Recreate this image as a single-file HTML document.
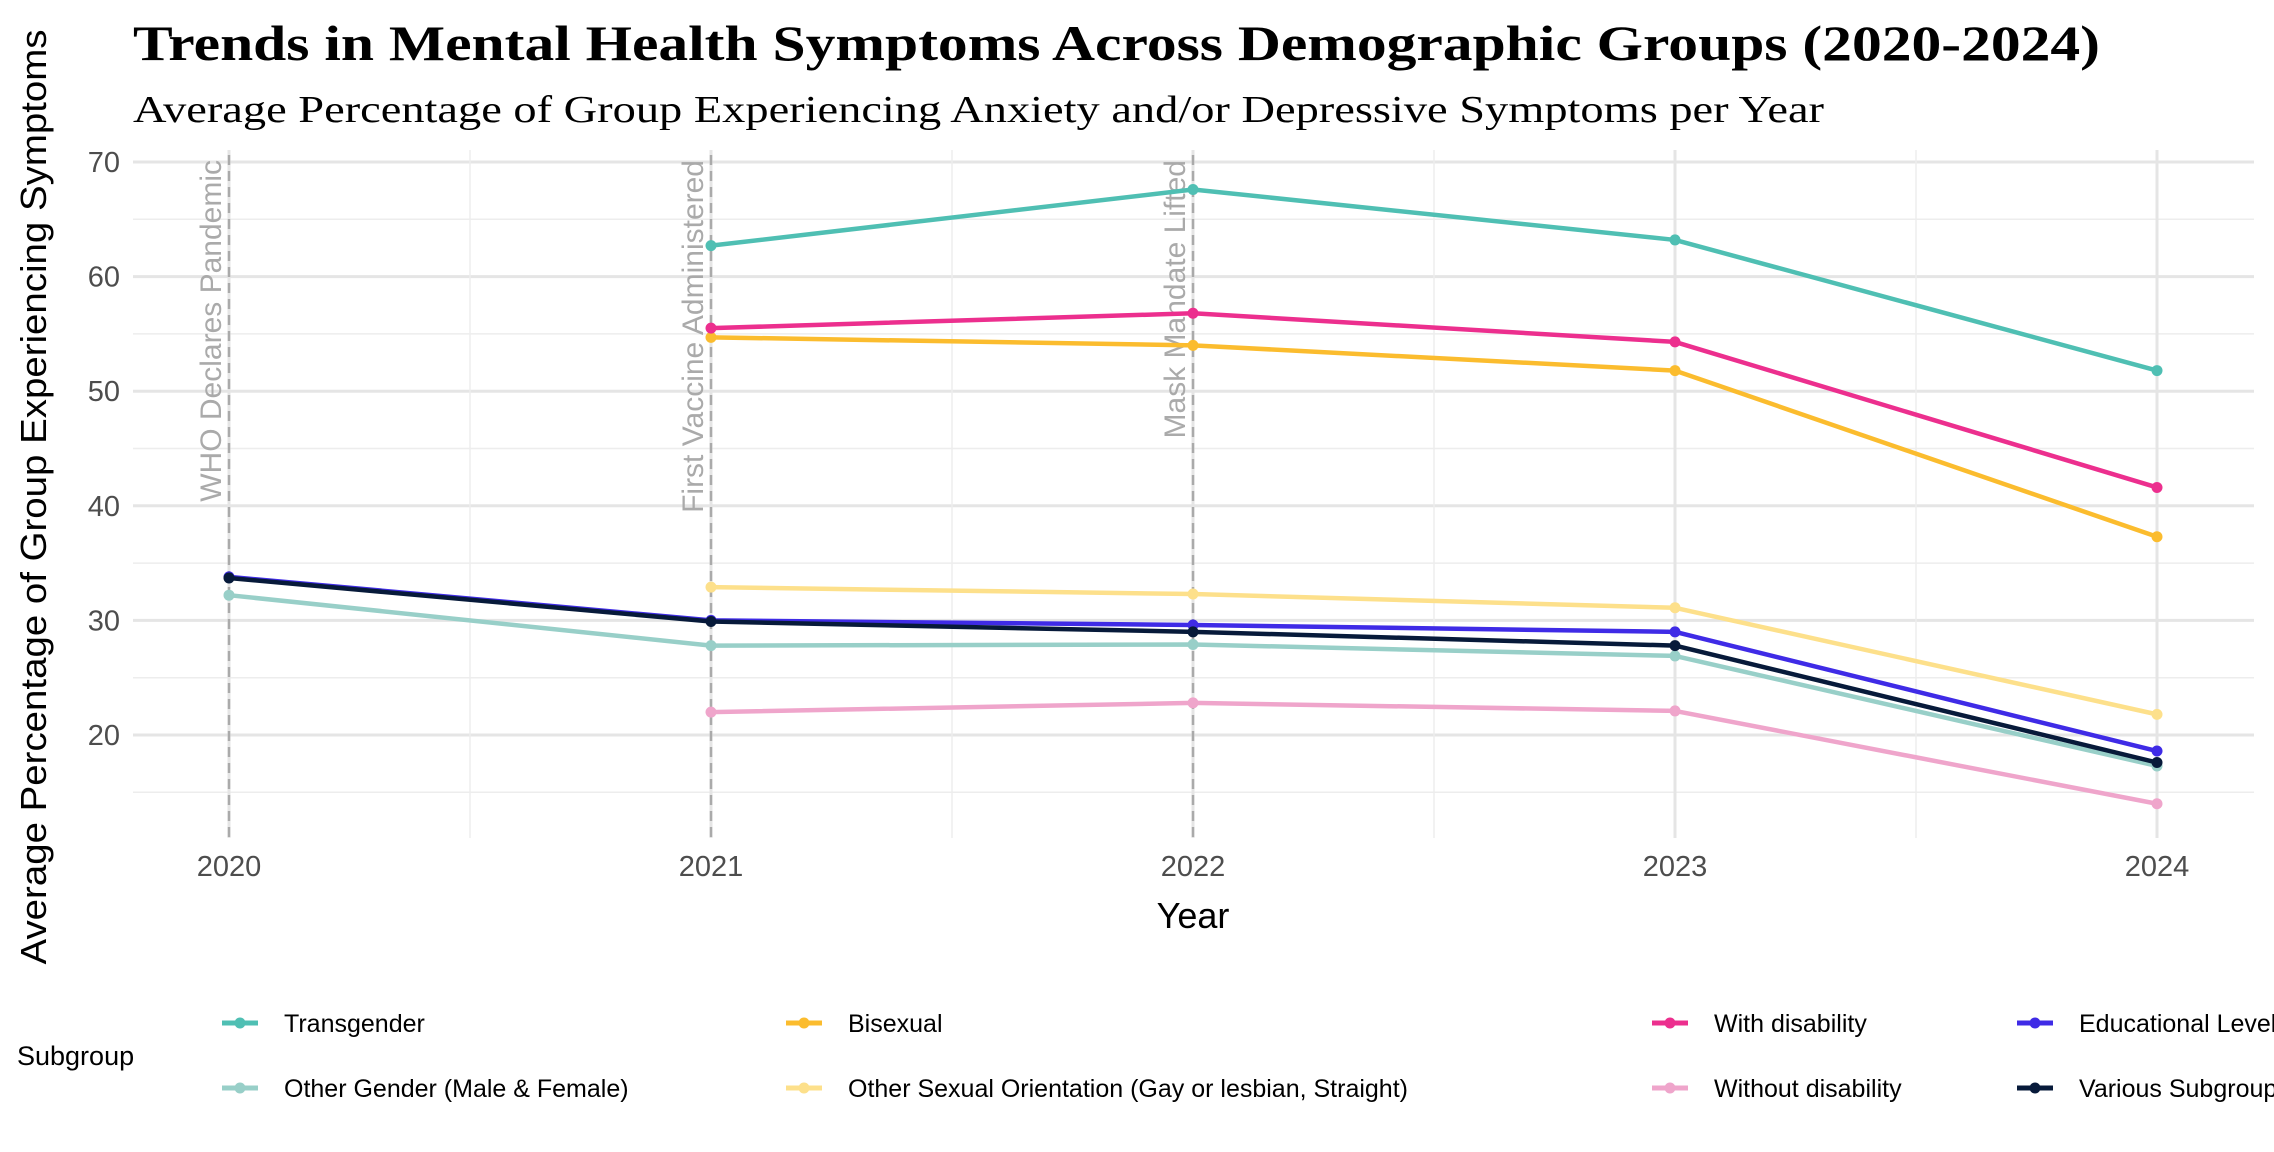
<!DOCTYPE html>
<html><head><meta charset="utf-8"><style>
html,body{margin:0;padding:0;background:#fff;}
svg{display:block;}
</style></head><body>
<svg id="chart" width="2274" height="1152" viewBox="0 0 2274 1152" xmlns="http://www.w3.org/2000/svg">
<text x="133" y="60" font-family="Liberation Serif, serif" font-weight="bold" font-size="50" textLength="1967" lengthAdjust="spacingAndGlyphs" fill="#000">Trends in Mental Health Symptoms Across Demographic Groups (2020-2024)</text>
<text x="133" y="122" font-family="Liberation Serif, serif" font-size="38" textLength="1691" lengthAdjust="spacingAndGlyphs" fill="#000">Average Percentage of Group Experiencing Anxiety and/or Depressive Symptoms per Year</text>
<g id="grid"></g>
<g id="annot"></g>
<g id="series"></g>
<g id="axes"></g>
<text transform="translate(46,497) rotate(-90)" text-anchor="middle" font-family="Liberation Sans, sans-serif" font-size="36" textLength="935" lengthAdjust="spacingAndGlyphs" fill="#000">Average Percentage of Group Experiencing Symptoms</text>
<text x="1193" y="928" text-anchor="middle" font-family="Liberation Sans, sans-serif" font-size="36" fill="#000">Year</text>
<text x="17" y="1065" font-family="Liberation Sans, sans-serif" font-size="27" fill="#000">Subgroup</text>
<g id="legend"></g>
</svg>
<script>
const years = [2020, 2021, 2022, 2023, 2024];
const seriesNames = ["Transgender","Bisexual","With disability","Educational Level","Other Gender (Male & Female)","Other Sexual Orientation (Gay or lesbian, Straight)","Without disability","Various Subgroups"];
const transgender = [null, 62.7, 67.6, 63.2, 51.8];
const bisexual = [null, 54.7, 54.0, 51.8, 37.3];
const withDisability = [null, 55.5, 56.8, 54.3, 41.6];
const otherSexual = [null, 32.9, 32.3, 31.1, 21.8];
const otherGender = [32.2, 27.8, 27.9, 26.9, 17.3];
const withoutDisability = [null, 22.0, 22.8, 22.1, 14.0];
const educational = [33.8, 30.0, 29.6, 29.0, 18.6];
const various = [33.7, 29.9, 29.0, 27.8, 17.6];
const yTicks = [20, 30, 40, 50, 60, 70];
const events = [{year:2020,label:"WHO Declares Pandemic"},{year:2021,label:"First Vaccine Administered"},{year:2022,label:"Mask Mandate Lifted"}];

const NS="http://www.w3.org/2000/svg";
const X = y => 229 + (y-2020)*482;
const Y = v => 735 - (v-20)*11.46;
const panelLeft=133, panelRight=2254, panelTop=150, panelBottom=838;
function mk(tag, attrs, parent){const e=document.createElementNS(NS,tag);for(const k in attrs)e.setAttribute(k,attrs[k]);parent.appendChild(e);return e;}
const grid=document.getElementById('grid');
for(let v=15; v<=70; v+=5){
  const major = v%10===0;
  const l=mk('line',{x1:panelLeft,x2:panelRight,y1:Y(v),y2:Y(v),stroke:major?'#e5e5e5':'#ededed','stroke-width':major?3:1.5},grid);
  
  
}
for(let yr=2020; yr<=2024; yr+=0.5){
  const major = Number.isInteger(yr);
  const l=mk('line',{x1:X(yr),x2:X(yr),y1:panelTop,y2:panelBottom,stroke:major?'#e5e5e5':'#ededed','stroke-width':major?3:1.5},grid);
  
  
}
const axes=document.getElementById('axes');
yTicks.forEach(v=>{
  const t=mk('text',{x:120,y:Y(v)+10,'text-anchor':'end','font-family':'Liberation Sans, sans-serif','font-size':29,fill:'#4d4d4d'},axes);
  t.textContent=v;
  
  
});
years.forEach(yr=>{
  const t=mk('text',{x:X(yr),y:876,'text-anchor':'middle','font-family':'Liberation Sans, sans-serif','font-size':29,fill:'#4d4d4d'},axes);
  t.textContent=yr;
  
  
});
const annot=document.getElementById('annot');
events.forEach(ev=>{
  const l=mk('line',{x1:X(ev.year),x2:X(ev.year),y1:panelTop+5,y2:panelBottom,stroke:'#aaaaaa','stroke-width':2.5,'stroke-dasharray':'10,6'},annot);
  
  
  const t=mk('text',{transform:`translate(${X(ev.year)-8},160) rotate(-90)`,'text-anchor':'end','font-family':'Liberation Sans, sans-serif','font-size':30,fill:'#aaaaaa'},annot);
  t.textContent=ev.label;
  
  
});
const draw=[
  [otherGender,'#98cfc8',seriesNames[4]],
  [withoutDisability,'#efa5cb',seriesNames[6]],
  [otherSexual,'#fde08b',seriesNames[5]],
  [bisexual,'#fbbc2e',seriesNames[1]],
  [withDisability,'#ec2f8e',seriesNames[2]],
  [transgender,'#4fbfb3',seriesNames[0]],
  [educational,'#3f2be6',seriesNames[3]],
  [various,'#071a3a',seriesNames[7]]
];
const sg=document.getElementById('series');
draw.forEach(([vals,col,name])=>{
  const g=mk('g',{},sg);
  
  
  const pts=[];
  vals.forEach((v,i)=>{if(v!==null)pts.push([X(years[i]),Y(v)]);});
  const p=mk('polyline',{points:pts.map(p=>p.join(',')).join(' '),fill:'none',stroke:col,'stroke-width':4.5,'stroke-linejoin':'round'},g);
  
  
  pts.forEach(([x,y])=>{
    const c=mk('circle',{cx:x,cy:y,r:5.5,fill:col},g);
    
    
  });
});
const legendItems=[
  [seriesNames[0],'#4fbfb3',222,1023],[seriesNames[4],'#98cfc8',222,1088],
  [seriesNames[1],'#fbbc2e',786,1023],[seriesNames[5],'#fde08b',786,1088],
  [seriesNames[2],'#ec2f8e',1652,1023],[seriesNames[6],'#efa5cb',1652,1088],
  [seriesNames[3],'#3f2be6',2017,1023],[seriesNames[7],'#071a3a',2017,1088]
];
const lg=document.getElementById('legend');
legendItems.forEach(([name,col,x,y])=>{
  const g=mk('g',{},lg);
  
  
  mk('line',{x1:x,x2:x+36,y1:y,y2:y,stroke:col,'stroke-width':5},g);
  mk('circle',{cx:x+18,cy:y,r:5.5,fill:col},g);
  const t=mk('text',{x:x+62,y:y+9,'font-family':'Liberation Sans, sans-serif','font-size':25,fill:'#000'},g);
  t.textContent=name;
  
  
});
</script>
</body></html>
